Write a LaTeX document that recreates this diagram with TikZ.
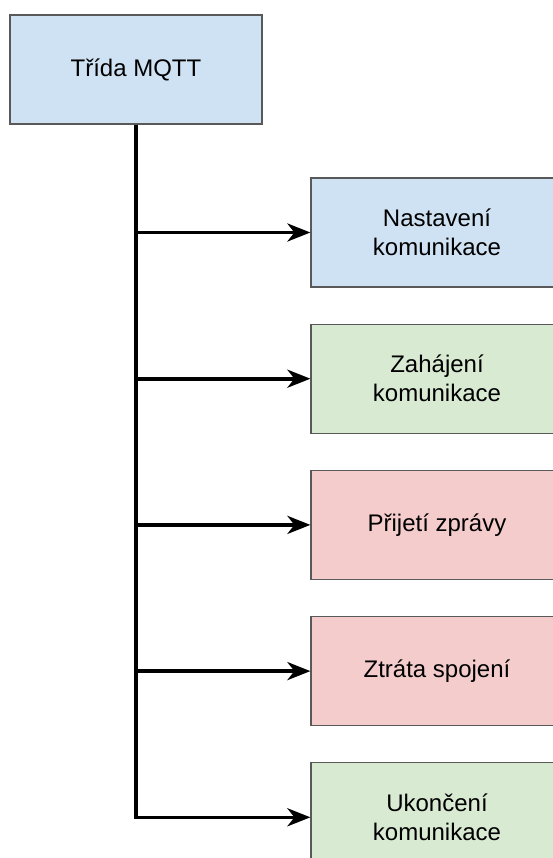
\documentclass[tikz,border=0pt]{standalone}
\usepackage{fontspec}
\setmainfont{Liberation Sans}
\usepackage{xcolor}
\usetikzlibrary{positioning,arrows.meta}

\definecolor{modra}{HTML}{CFE2F3}
\definecolor{zelena}{HTML}{D9EAD3}
\definecolor{cervena}{HTML}{F4CCCC}
\definecolor{okraj}{HTML}{595959}

\tikzset{
  blok/.style={draw=okraj, line width=1.2pt, minimum width=252pt, minimum height=109pt,
    inner sep=0pt, align=center, font=\fontsize{24}{29}\selectfont},
  sipka/.style={line width=3.6pt, -{Stealth[length=23pt, width=18pt, inset=7pt]}},
}

\begin{document}
\begin{tikzpicture}[x=1pt, y=-1pt, node distance=36pt]
		  \useasboundingbox (0,0) rectangle (552,858);
		  \node[blok, fill=modra] (mqtt) at (136,69.5) {Třída MQTT} ; %
		  \node[blok, fill=modra] (nast) at (437,232.5) {Nastavení\\komunikace} ; %
		  \node[blok, fill=zelena, below=of nast] (zahaj) {Zahájení\\komunikace} ; %
		  \node[blok, fill=cervena, below=of zahaj] (prijeti) {Přijetí zprávy} ; %
		  \node[blok, fill=cervena, below=of prijeti] (ztrata) {Ztráta spojení} ; %
		  \node[blok, fill=zelena, below=of ztrata] (ukonceni) {Ukončení\\komunikace} ; %
		
		  % kmen a vetve
		  \draw[sipka, line cap=butt] (mqtt.south) |- (ukonceni.west) ;
		  \draw[sipka] (mqtt.south |- nast.west) -- (nast.west) ;
		  \draw[sipka] (mqtt.south |- zahaj.west) -- (zahaj.west) ;
		  \draw[sipka] (mqtt.south |- prijeti.west) -- (prijeti.west) ;
		  \draw[sipka] (mqtt.south |- ztrata.west) -- (ztrata.west) ;
		\end{tikzpicture}
\end{document}
